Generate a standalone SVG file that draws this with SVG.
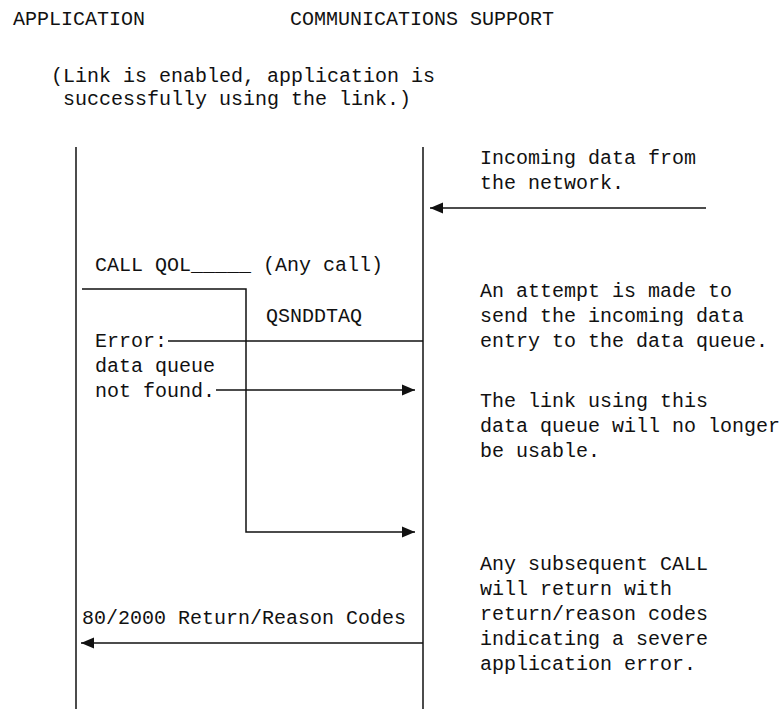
<svg xmlns="http://www.w3.org/2000/svg" width="781" height="709" viewBox="0 0 781 709">
<style>
text{font-family:"Liberation Mono","DejaVu Sans Mono",monospace;font-size:20px;fill:#111}
.ln{stroke:#111;stroke-width:1.5;fill:none}
.ar{stroke:#111;stroke-width:1.5;fill:none;marker-end:url(#ah)}
</style>
<defs>
<marker id="ah" markerUnits="userSpaceOnUse" markerWidth="14" markerHeight="12" refX="13" refY="6" orient="auto">
<path d="M0,0.5 L13,6 L0,11.5 Z" fill="#111"/>
</marker>
</defs>
<rect width="781" height="709" fill="#fff"/>
<g id="headers">
<text x="13" y="25">APPLICATION</text>
<text x="290" y="25">COMMUNICATIONS SUPPORT</text>
<text x="51" y="82">(Link is enabled, application is</text>
<text x="63" y="105">successfully using the link.)</text>
</g>
<g id="lifelines">
<line class="ln" x1="76" y1="147" x2="76" y2="709"/>
<line class="ln" x1="423" y1="147" x2="423" y2="709"/>
</g>
<g id="notes">
<text x="480" y="164">Incoming data from</text>
<text x="480" y="189">the network.</text>
<text x="480" y="297">An attempt is made to</text>
<text x="480" y="322">send the incoming data</text>
<text x="480" y="347">entry to the data queue.</text>
<text x="480" y="407">The link using this</text>
<text x="480" y="432">data queue will no longer</text>
<text x="480" y="457">be usable.</text>
<text x="480" y="570">Any subsequent CALL</text>
<text x="480" y="595">will return with</text>
<text x="480" y="620">return/reason codes</text>
<text x="480" y="645">indicating a severe</text>
<text x="480" y="670">application error.</text>
</g>
<g id="labels">
<text x="95" y="271">CALL QOL_____ (Any call)</text>
<text x="266" y="322">QSNDDTAQ</text>
<text x="95" y="347">Error:</text>
<text x="95" y="372">data queue</text>
<text x="95" y="397">not found.</text>
<text x="82" y="624">80/2000 Return/Reason Codes</text>
</g>
<g id="connectors">
<line class="ar" x1="706" y1="208" x2="430" y2="208"/>
<polyline class="ar" points="82,289 246,289 246,532 415,532"/>
<line class="ln" x1="168" y1="341" x2="423" y2="341"/>
<line class="ar" x1="216" y1="390" x2="415" y2="390"/>
<line class="ar" x1="423" y1="643" x2="81" y2="643"/>
</g>
</svg>
